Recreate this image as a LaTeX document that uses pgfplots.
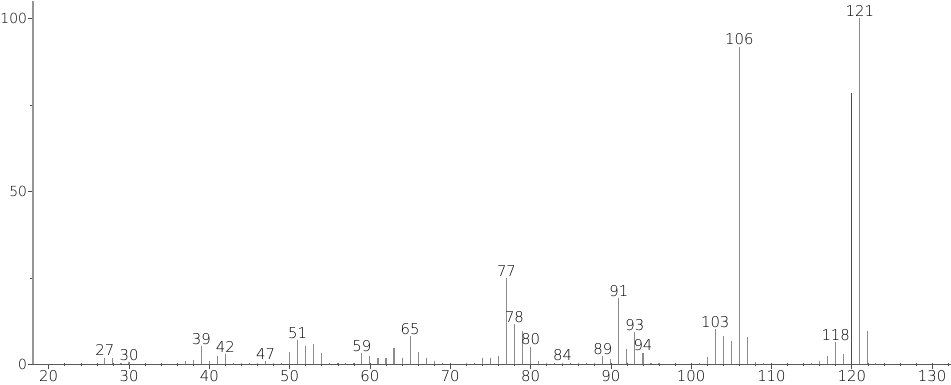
\documentclass[border=0pt]{standalone}
\usepackage{fontspec}
\setmainfont{DejaVu Sans ExtraLight}
\usepackage{pgfplots}
\pgfplotsset{compat=1.18}
\definecolor{bargray}{RGB}{140,140,140}
\definecolor{axgray}{RGB}{150,150,150}
\begin{document}
\begin{tikzpicture}
\begin{axis}[
  scale only axis, width=923bp, height=365.5bp,
  xmin=18, xmax=132.3, ymin=0, ymax=105,
  axis lines*=left,
  xtick={20,30,...,130}, minor xtick={22,24,...,132},
  ytick={0,50,100}, minor ytick={25,75},
  tick align=outside, major tick length=5bp, minor tick length=3bp,
  minor x tick style={yshift=1.5bp},
  x axis line style={black!65, line width=0.9bp},
  y axis line style={axgray, line width=2bp},
  tick style={black!70, line width=0.6bp},
  tick label style={font=\fontsize{15}{15}\selectfont, /pgf/number format/assume math mode=true},
  xticklabel style={inner sep=1bp, text height=11bp, text depth=2bp},
  yticklabel style={font=\fontsize{14}{14}\selectfont, inner sep=0.5bp},
  clip=false,
]
\addplot[ycomb, bargray, line width=1.1bp] table {
x y
27 2.0
28 1.8
29 0.4
30 0.6
37 0.9
38 1.3
39 5.3
40 1.1
41 2.4
42 3.0
43 0.4
44 0.3
45 0.3
46 0.4
47 1.0
48 0.3
49 0.5
50 3.7
51 7.0
52 5.3
53 5.8
54 3.2
55 0.5
56 0.3
57 0.3
58 0.4
59 3.2
60 2.5
61 1.9
62 2.0
63 4.9
64 1.8
65 8.2
66 3.6
67 1.9
68 1.0
69 0.3
72 0.3
73 0.5
74 1.9
75 1.9
76 2.5
77 24.9
78 11.6
79 9.7
80 5.1
81 1.0
82 0.3
83 0.3
84 0.5
85 0.3
86 0.3
87 0.4
88 0.3
89 2.4
90 1.7
91 19.2
92 4.4
93 9.4
94 3.4
95 0.5
96 0.3
101 0.5
102 2.2
103 10.2
104 8.3
105 6.8
106 91.8
107 7.8
108 0.8
109 0.3
115 0.3
116 1.0
117 2.4
118 6.5
119 3.0
121 100
122 9.6
123 0.5
};
\addplot[ycomb, black!70, line width=0.9bp] table {
x y
120 78.4
};
\addplot[draw=none, mark=none, nodes near coords, point meta=explicit symbolic,
  nodes near coords style={font=\fontsize{15}{15}\selectfont, anchor=south, inner sep=1.5bp, text=black}]
  table[meta=lab] {
x y lab
27 2.0 27
30 0.6 30
39 5.3 39
42 3.0 42
47 1.0 47
51 7.0 51
59 3.2 59
65 8.2 65
77 24.9 77
78 11.6 78
80 5.1 80
84 0.5 84
89 2.4 89
91 19.2 91
93 9.4 93
94 3.4 94
103 10.2 103
106 91.8 106
118 6.5 118
121 100 121
};
\end{axis}
\end{tikzpicture}
\end{document}
